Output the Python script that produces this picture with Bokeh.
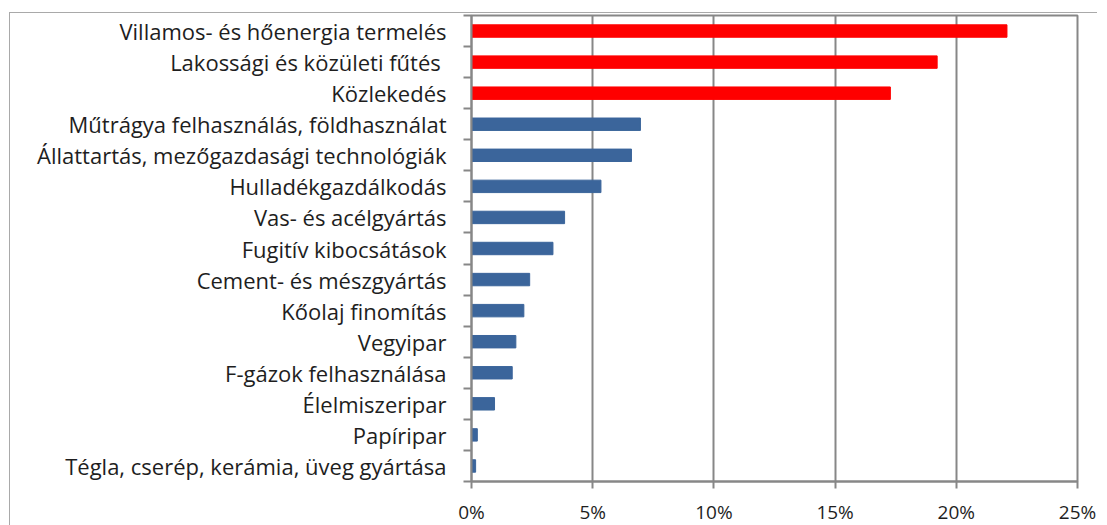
import numpy as np
from bokeh.plotting import figure
from bokeh.models import ColumnDataSource, FixedTicker, NumeralTickFormatter, Range1d
from bokeh.embed import file_html
from bokeh.resources import INLINE

categories = [
    "Villamos- és hőenergia termelés",
    "Lakossági és közületi fűtés ",
    "Közlekedés",
    "Műtrágya felhasználás, földhasználat",
    "Állattartás, mezőgazdasági technológiák",
    "Hulladékgazdálkodás",
    "Vas- és acélgyártás",
    "Fugitív kibocsátások",
    "Cement- és mészgyártás",
    "Kőolaj finomítás",
    "Vegyipar",
    "F-gázok felhasználása",
    "Élelmiszeripar",
    "Papíripar",
    "Tégla, cserép, kerámia, üveg gyártása",
]
shares = [0.2209, 0.1921, 0.1728, 0.0697, 0.0660, 0.0534, 0.0384, 0.0336,
          0.0240, 0.0216, 0.0183, 0.0168, 0.0095, 0.0024, 0.0017]
highlighted = [True, True, True] + [False] * 12
x_ticks = [0.0, 0.05, 0.10, 0.15, 0.20, 0.25]

RED = "#ff0000"
BLUE = "#3b659b"
GRID = "#878787"
FONT = "Open Sans"

n = len(categories)
ypos = [n - i - 0.5 for i in range(n)]
colors = [RED if h else BLUE for h in highlighted]

src = ColumnDataSource(dict(cat=categories, y=ypos, v=shares, c=colors))

p = figure(
    frame_width=606, frame_height=466,
    x_range=Range1d(0, 0.25), y_range=Range1d(0, n),
    output_backend="svg", toolbar_location=None,
    min_border_left=461, min_border_top=2, min_border_right=20, min_border_bottom=20,
    margin=(12, 0, 0, 9),
    styles={"border-top": "1.5px solid #a9a9a9", "border-left": "1.5px solid #a9a9a9"},
)
p.hbar(y="y", right="v", left=0, height=0.4, color="c", source=src)

# x axis
p.xaxis.ticker = FixedTicker(ticks=x_ticks)
p.xaxis.formatter = NumeralTickFormatter(format="0%")
p.xaxis.axis_line_color = GRID
p.xaxis.axis_line_width = 2
p.xaxis.major_tick_line_color = GRID
p.xaxis.major_tick_line_width = 2
p.xaxis.major_tick_out = 7
p.xaxis.major_tick_in = 0
p.xaxis.minor_tick_line_color = None
p.xaxis.major_label_standoff = 10
p.xaxis.major_label_text_font = FONT
p.xaxis.major_label_text_font_size = "19px"
p.xaxis.major_label_text_color = "#1e1e1e"

# y axis: labels at category centres, ticks at category boundaries
p.yaxis.ticker = FixedTicker(ticks=ypos, minor_ticks=list(range(n + 1)))
p.yaxis.major_label_overrides = {y: c for y, c in zip(ypos, categories)}
p.yaxis.axis_line_color = GRID
p.yaxis.axis_line_width = 2
p.yaxis.major_tick_line_color = None
p.yaxis.major_tick_out = 0
p.yaxis.major_tick_in = 0
p.yaxis.minor_tick_line_color = GRID
p.yaxis.minor_tick_line_width = 2
p.yaxis.minor_tick_out = 8
p.yaxis.minor_tick_in = 0
p.yaxis.major_label_standoff = 17
p.yaxis.major_label_text_font = FONT
p.yaxis.major_label_text_font_size = "22px"
p.yaxis.major_label_text_color = "#1e1e1e"

p.xgrid.grid_line_color = GRID
p.xgrid.grid_line_width = 2
p.ygrid.grid_line_color = None

p.outline_line_color = GRID
p.outline_line_width = 2
p.background_fill_color = "white"
p.border_fill_color = "white"

open("out.html", "w").write(file_html(p, INLINE))
